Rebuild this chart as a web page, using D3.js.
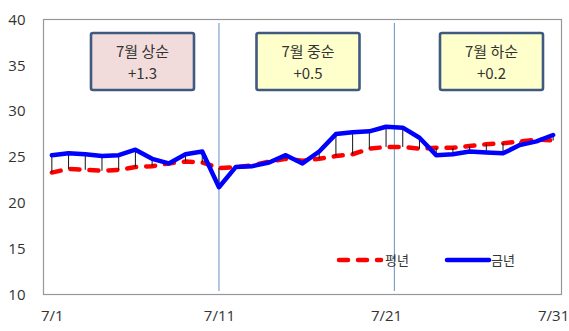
<!DOCTYPE html>
<html>
<head>
<meta charset="utf-8">
<script src="https://cdn.jsdelivr.net/npm/d3@7"></script>
<style>
  html, body { margin: 0; padding: 0; background: #fff; }
  svg text { font-family: "Noto Sans CJK KR", "Noto Sans", sans-serif; fill: #333; }
</style>
</head>
<body>
<svg id="chart" width="569" height="331"></svg>
<script>
// July daily mean temperature: normal year vs. this year
const days = d3.range(1, 32);
const normal = [23.3, 23.7, 23.6, 23.5, 23.6, 23.9, 24.0, 24.3, 24.5, 24.4,
                23.8, 23.9, 24.1, 24.5, 24.8, 24.6, 24.8, 25.1, 25.3, 25.9,
                26.1, 26.1, 25.9, 26.0, 26.0, 26.2, 26.4, 26.5, 26.7, 26.9, 26.8];
const thisYear = [25.2, 25.4, 25.3, 25.1, 25.2, 25.8, 24.8, 24.3, 25.3, 25.6,
                  21.7, 23.9, 24.0, 24.4, 25.2, 24.3, 25.6, 27.5, 27.7, 27.8,
                  28.3, 28.2, 27.1, 25.2, 25.3, 25.6, 25.5, 25.4, 26.3, 26.7, 27.4];
const yTicks = [10, 15, 20, 25, 30, 35, 40];
const xTickDays = [1, 11, 21, 31];
const xTickLabels = ["7/1", "7/11", "7/21", "7/31"];
const dividers = [11, 21.5];
const periodTitles = ["7월 상순", "7월 중순", "7월 하순"];
const periodDiffs = ["+1.3", "+0.5", "+0.2"];
const seriesNames = ["평년", "금년"];

const svg = d3.select("#chart");
const plot = { left: 43.5, right: 561.5, top: 19.5, bottom: 294.5 };

const x = d3.scaleLinear().domain([0.5, 31.5]).range([plot.left, plot.right]);
const y = d3.scaleLinear().domain([10, 40]).range([plot.bottom, plot.top]);

// plot frame
svg.append("rect")
  .attr("x", plot.left).attr("y", plot.top)
  .attr("width", plot.right - plot.left).attr("height", plot.bottom - plot.top)
  .attr("fill", "none").attr("stroke", "#979797").attr("stroke-width", 1.2);

// y axis labels
const yAxis = d3.axisLeft(y).tickValues(yTicks).tickSize(0).tickPadding(18);
svg.append("g").attr("transform", `translate(${plot.left},0)`).call(yAxis)
  .call(g => g.select(".domain").remove())
  .call(g => g.selectAll("text").attr("font-size", 15).attr("fill", "#333")
    .style("font-family", '"Open Sans", "Noto Sans", sans-serif'));

// x axis labels
const xAxis = d3.axisBottom(x).tickValues(xTickDays).tickSize(0).tickPadding(16)
  .tickFormat((d, i) => xTickLabels[i]);
svg.append("g").attr("transform", `translate(0,${plot.bottom})`).call(xAxis)
  .call(g => g.select(".domain").remove())
  .call(g => g.selectAll("text").attr("font-size", 15).attr("fill", "#333")
    .style("font-family", '"Open Sans", "Noto Sans", sans-serif'));

// dividers between the ten-day periods
svg.append("g").selectAll("line").data(dividers).join("line")
  .attr("x1", d => x(d)).attr("x2", d => x(d))
  .attr("y1", 23).attr("y2", 291)
  .attr("stroke", "#7fa3cc").attr("stroke-width", 1.2);

// normal-year line (dashed red)
const line = (vals) => d3.line().x((d, i) => x(days[i])).y(d => y(d))(vals);
svg.append("path").attr("d", line(normal))
  .attr("fill", "none").attr("stroke", "#ff0000").attr("stroke-width", 4.5)
  .attr("stroke-dasharray", "9,10").attr("stroke-linecap", "round");

// high-low lines between the two series
svg.append("g").selectAll("line").data(days).join("line")
  .attr("x1", d => x(d)).attr("x2", d => x(d))
  .attr("y1", (d, i) => y(normal[i])).attr("y2", (d, i) => y(thisYear[i]))
  .attr("stroke", "#111").attr("stroke-width", 1);

// this-year line (solid blue)
svg.append("path").attr("d", line(thisYear))
  .attr("fill", "none").attr("stroke", "#0000ff").attr("stroke-width", 4.5)
  .attr("stroke-linejoin", "round").attr("stroke-linecap", "round");

// period anomaly boxes
const boxes = [
  { x: 91, fill: "#f2dcdb" },
  { x: 256.5, fill: "#ffffcc" },
  { x: 440, fill: "#ffffcc" }
];
const bw = 103, bh = 57, by = 33;
const bg = svg.append("g").selectAll("g").data(boxes).join("g")
  .attr("transform", d => `translate(${d.x},${by})`);
bg.append("rect").attr("width", bw).attr("height", bh).attr("rx", 2)
  .attr("fill", d => d.fill).attr("stroke", "#3f5a80").attr("stroke-width", 2.6);
bg.append("text").attr("x", bw / 2).attr("y", 23.5).attr("text-anchor", "middle")
  .attr("font-size", 15).text((d, i) => periodTitles[i]);
bg.append("text").attr("x", bw / 2).attr("y", 45.5).attr("text-anchor", "middle")
  .attr("font-size", 15).text((d, i) => periodDiffs[i]);

// legend
const legend = svg.append("g");
legend.append("line").attr("x1", 339).attr("x2", 381).attr("y1", 260).attr("y2", 260)
  .attr("stroke", "#ff0000").attr("stroke-width", 4.5)
  .attr("stroke-dasharray", "9,10").attr("stroke-linecap", "round");
legend.append("text").attr("x", 385).attr("y", 265).attr("font-size", 13).text(seriesNames[0]);
legend.append("line").attr("x1", 447).attr("x2", 489).attr("y1", 260).attr("y2", 260)
  .attr("stroke", "#0000ff").attr("stroke-width", 4.5).attr("stroke-linecap", "round");
legend.append("text").attr("x", 491).attr("y", 265).attr("font-size", 13).text(seriesNames[1]);
</script>
</body>
</html>
